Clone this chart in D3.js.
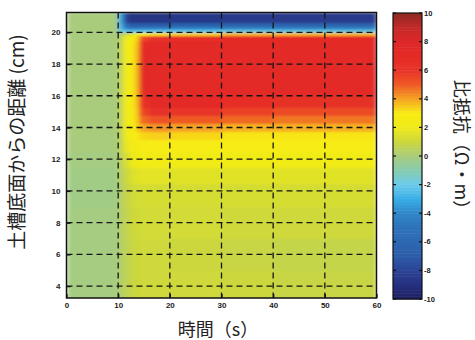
<!DOCTYPE html>
<html>
<head>
<meta charset="utf-8">
<script src="https://cdn.jsdelivr.net/npm/d3@7"></script>
<style>
  body { margin: 0; background: #fff; }
  text { fill: #222; }
</style>
</head>
<body>
<script>

// data: heatmap cells (rows bottom -> top, columns left -> right)
const time_edges = [0, 10, 11, 12, 13, 14, 16, 20, 30, 40, 50, 60];
const height_edges = [3.25, 5, 7, 9, 10.5, 11.5, 12.5, 13.25, 13.75, 14.25, 14.75, 15.25,
    16, 17, 18, 19, 19.5, 19.8, 20.0, 20.2, 20.4, 20.6, 21.25];

const resistivity = [
    [-0.1, 0.3, 0.6, 0.9, 1.0, 1.1, 1.1, 1.1, 1.0, 0.9, 0.9],
    [-0.1, 0.3, 0.6, 0.9, 1.0, 1.1, 1.1, 1.0, 0.9, 0.8, 0.8],
    [-0.1, 0.3, 0.7, 1.0, 1.1, 1.2, 1.2, 1.2, 1.1, 1.1, 1.1],
    [-0.2, 0.3, 0.8, 1.1, 1.2, 1.3, 1.3, 1.3, 1.3, 1.3, 1.3],
    [-0.2, 0.4, 1.0, 1.4, 1.6, 1.7, 1.7, 1.6, 1.6, 1.6, 1.6],
    [-0.1, 0.5, 1.4, 1.9, 2.1, 2.3, 2.4, 2.3, 2.3, 2.3, 2.3],
    [0.0, 0.6, 1.8, 2.4, 2.6, 2.8, 2.9, 2.9, 2.9, 2.9, 2.9],
    [0.0, 0.6, 2.0, 2.6, 3.0, 3.3, 3.4, 3.3, 3.1, 3.1, 3.1],
    [0.0, 0.6, 2.1, 2.7, 3.2, 4.0, 4.2, 4.0, 3.8, 3.8, 3.8],
    [0.0, 0.6, 2.2, 2.8, 3.3, 4.8, 5.2, 5.0, 4.8, 4.6, 4.6],
    [0.0, 0.6, 2.2, 2.8, 3.4, 5.6, 6.2, 6.0, 5.6, 5.4, 5.4],
    [0.0, 0.6, 2.2, 2.8, 3.5, 6.4, 7.0, 7.0, 6.6, 6.4, 6.4],
    [0.0, 0.6, 2.2, 2.8, 3.6, 7.0, 7.2, 7.2, 7.1, 7.0, 7.0],
    [0.0, 0.6, 2.2, 2.8, 3.6, 7.0, 7.2, 7.2, 7.2, 7.2, 7.2],
    [0.0, 0.6, 2.2, 2.8, 3.6, 7.0, 7.2, 7.2, 7.2, 7.2, 7.2],
    [0.0, 0.6, 2.2, 2.8, 3.5, 6.8, 7.0, 7.0, 7.0, 7.0, 7.0],
    [0.0, 0.5, 2.0, 2.6, 3.2, 5.5, 6.2, 6.5, 6.8, 6.8, 6.8],
    [0.0, 0.0, 1.0, 1.5, 2.0, 3.0, 3.2, 3.4, 3.8, 3.8, 3.8],
    [0.0, -1.5, -2.0, -2.2, -2.2, -2.0, -2.0, -2.0, -1.8, -1.8, -1.8],
    [0.0, -2.5, -4.0, -4.5, -4.5, -4.2, -4.2, -4.0, -4.0, -4.0, -4.0],
    [0.0, -2.8, -6.0, -7.0, -7.0, -7.0, -7.0, -6.8, -6.5, -6.5, -6.5],
    [0.0, -3.0, -8.0, -8.8, -8.8, -8.8, -8.8, -8.6, -8.5, -8.5, -8.5]
];

const x_ticks = [0, 10, 20, 30, 40, 50, 60];
const y_ticks = [4, 6, 8, 10, 12, 14, 16, 18, 20];
const color_ticks = [-10, -8, -6, -4, -2, 0, 2, 4, 6, 8, 10];

const color_stop_values = [-10, -9, -8, -7, -6, -5, -4, -3, -2, -1, 0, 1, 2, 3, 4, 5, 6, 7, 8, 9, 10];
const color_stop_colors = ["#1e1f5e", "#263080", "#2b4496", "#2c5ca8", "#2d68b2", "#2e72bb",
    "#2f86c8", "#38aee6", "#6ccbec", "#86cbb0", "#a8cc7c", "#cbd73e", "#eeea1a", "#f8ec12",
    "#f5a425", "#ef5a24", "#e8342a", "#e42a25", "#de2828", "#c42828", "#8c2a24"];

// setup
const WIDTH = 475;
const HEIGHT = 340;
const PLOT = {left: 66.5, right: 376.5, top: 12.5, bottom: 298};
const BAR = {left: 393, right: 422, top: 13, bottom: 299};
const TICK_FONT = "'Liberation Sans', Arial, sans-serif";
const LABEL_FONT = "'Noto Sans CJK JP', 'Noto Sans', sans-serif";

const svg = d3.select("body").append("svg")
    .attr("width", WIDTH)
    .attr("height", HEIGHT);

const x = d3.scaleLinear().domain([0, 60]).range([PLOT.left, PLOT.right]);
const y = d3.scaleLinear().domain([3.25, 21.25]).range([PLOT.bottom, PLOT.top]);
const color = d3.scaleLinear().domain(color_stop_values).range(color_stop_colors).clamp(true);
const cy = d3.scaleLinear().domain([-10, 10]).range([BAR.bottom, BAR.top]);

const defs = svg.append("defs");
defs.append("clipPath").attr("id", "plot-clip")
    .append("rect")
    .attr("x", PLOT.left).attr("y", PLOT.top)
    .attr("width", PLOT.right - PLOT.left).attr("height", PLOT.bottom - PLOT.top);

const soft = defs.append("filter").attr("id", "soft")
    .attr("x", 0).attr("y", 0).attr("width", 1).attr("height", 1);
soft.append("feGaussianBlur")
    .attr("stdDeviation", "2.5 1.2")
    .attr("edgeMode", "duplicate");

// heatmap cells
const cells = [];
resistivity.forEach((row, i) => {
    row.forEach((v, j) => {
        cells.push({t0: time_edges[j], t1: time_edges[j + 1], h0: height_edges[i], h1: height_edges[i + 1], v});
    });
});

svg.append("g")
    .attr("clip-path", "url(#plot-clip)")
    .append("g")
    .attr("filter", "url(#soft)")
    .selectAll("rect")
    .data(cells)
    .join("rect")
    .attr("x", d => x(d.t0))
    .attr("y", d => y(d.h1))
    .attr("width", d => x(d.t1) - x(d.t0) + 0.6)
    .attr("height", d => y(d.h0) - y(d.h1) + 0.6)
    .attr("fill", d => color(d.v))
    .attr("shape-rendering", "crispEdges");

// dashed grid
const grid = svg.append("g")
    .attr("stroke", "#151515")
    .attr("stroke-width", 1.3)
    .attr("stroke-dasharray", "6,4");

grid.selectAll("line.v")
    .data(x_ticks.filter(t => t > 0 && t < 60))
    .join("line")
    .attr("class", "v")
    .attr("x1", d => x(d)).attr("x2", d => x(d))
    .attr("y1", PLOT.top).attr("y2", PLOT.bottom);

grid.selectAll("line.h")
    .data(y_ticks)
    .join("line")
    .attr("class", "h")
    .attr("x1", PLOT.left).attr("x2", PLOT.right)
    .attr("y1", d => y(d)).attr("y2", d => y(d));

// frame
svg.append("rect")
    .attr("x", PLOT.left).attr("y", PLOT.top)
    .attr("width", PLOT.right - PLOT.left).attr("height", PLOT.bottom - PLOT.top)
    .attr("fill", "none")
    .attr("stroke", "#111")
    .attr("stroke-width", 1.5);

// axes
const x_axis = svg.append("g")
    .attr("transform", `translate(0,${PLOT.bottom})`)
    .call(d3.axisBottom(x).tickValues(x_ticks).tickSize(-4).tickPadding(6).tickFormat(d3.format("d")));

const y_axis = svg.append("g")
    .attr("transform", `translate(${PLOT.left},0)`)
    .call(d3.axisLeft(y).tickValues(y_ticks).tickSize(-4).tickPadding(6).tickFormat(d3.format("d")));

[x_axis, y_axis].forEach(axis => {
    axis.select(".domain").remove();
    axis.selectAll(".tick line").attr("stroke", "#111").attr("stroke-width", 1.3);
    axis.selectAll(".tick text")
        .attr("font-family", TICK_FONT)
        .attr("font-size", 8)
        .attr("font-weight", "bold")
        .style("fill", "#222");
});
x_axis.selectAll(".tick text").attr("dy", "0.55em");

// colour bar
const bar_steps = d3.range(-10, 10, 0.2);
svg.append("g")
    .selectAll("rect")
    .data(bar_steps)
    .join("rect")
    .attr("x", BAR.left)
    .attr("y", d => cy(d + 0.2))
    .attr("width", BAR.right - BAR.left)
    .attr("height", d => cy(d) - cy(d + 0.2) + 0.5)
    .attr("fill", d => color(d + 0.1));

svg.append("rect")
    .attr("x", BAR.left).attr("y", BAR.top)
    .attr("width", BAR.right - BAR.left).attr("height", BAR.bottom - BAR.top)
    .attr("fill", "none")
    .attr("stroke", "#111")
    .attr("stroke-width", 1.2);

const bar_ticks = svg.append("g");
bar_ticks.selectAll("line.r")
    .data(color_ticks)
    .join("line")
    .attr("class", "r")
    .attr("x1", BAR.right - 3).attr("x2", BAR.right)
    .attr("y1", d => cy(d)).attr("y2", d => cy(d))
    .attr("stroke", "#111").attr("stroke-width", 1.2);
bar_ticks.selectAll("line.l")
    .data(color_ticks)
    .join("line")
    .attr("class", "l")
    .attr("x1", BAR.left).attr("x2", BAR.left + 3)
    .attr("y1", d => cy(d)).attr("y2", d => cy(d))
    .attr("stroke", "#111").attr("stroke-width", 1.2);
bar_ticks.selectAll("text")
    .data(color_ticks)
    .join("text")
    .attr("x", BAR.right + 2)
    .attr("y", d => cy(d))
    .attr("dy", "0.35em")
    .attr("font-family", TICK_FONT)
    .attr("font-size", 7.5)
    .attr("font-weight", "bold")
    .text(d => d);

// titles
svg.append("text")
    .attr("transform", "translate(24,142) rotate(-90)")
    .attr("text-anchor", "middle")
    .attr("font-family", LABEL_FONT)
    .attr("font-size", 19)
    .text("土槽底面からの距離 (cm)");

svg.append("text")
    .attr("x", 218)
    .attr("y", 336)
    .attr("text-anchor", "middle")
    .attr("font-family", LABEL_FONT)
    .attr("font-size", 18)
    .text("時間（s）");

svg.append("text")
    .attr("transform", "translate(455,149) rotate(90)")
    .attr("text-anchor", "middle")
    .attr("font-family", LABEL_FONT)
    .attr("font-size", 18)
    .text("比抵抗（Ω・m）");

</script>
</body>
</html>
